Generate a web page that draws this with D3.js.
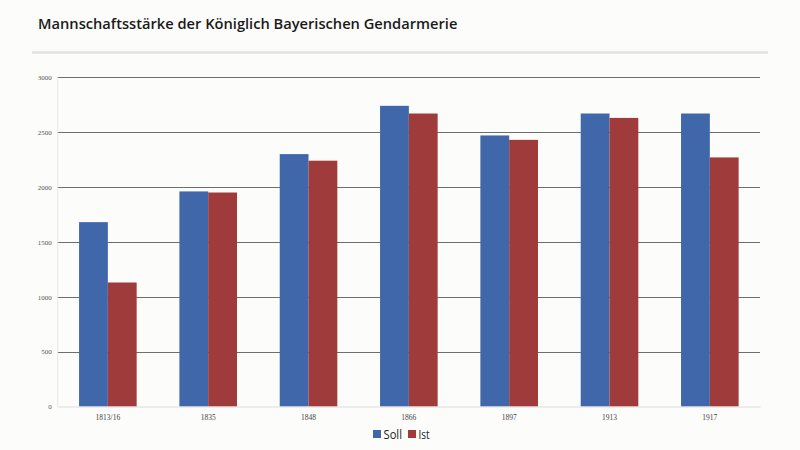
<!DOCTYPE html>
<html><head><meta charset="utf-8">
<script src="https://cdn.jsdelivr.net/npm/d3@7"></script>
<style>
html,body{margin:0;padding:0;background:#fcfcfa;}
svg{display:block;}
</style></head>
<body>
<svg id="c" width="800" height="450"></svg>
<script>
const categories = ["1813/16","1835","1848","1866","1897","1913","1917"];
const seriesNames = ["Soll","Ist"];
const soll = [1680,1960,2300,2740,2470,2670,2670];
const ist  = [1130,1950,2240,2670,2430,2630,2270];
const yTicks = [0,500,1000,1500,2000,2500,3000];
const colors = ["#3f67a9","#9f3b3b"];

(function(){
const svg = d3.select("#c");
svg.append("rect").attr("width",800).attr("height",450).attr("fill","#fcfcfa");

// Title
const title = svg.append("text").attr("x",38).attr("y",29)
  .attr("font-family","'Open Sans', sans-serif").attr("font-weight",600)
  .attr("font-size",16).attr("fill","#1a1a1a")
  .text("Mannschaftsstärke der Königlich Bayerischen Gendarmerie");
const tw = title.node().getComputedTextLength();
title.attr("font-size", 16*420/tw);
svg.append("line").attr("x1",32).attr("x2",768).attr("y1",52.5).attr("y2",52.5)
  .attr("stroke","#e2e2e0").attr("stroke-width",2.5);

const pLeft=57.7, pRight=760, pTop=77.3, pBottom=406.5;
const x = d3.scaleBand().domain(categories).range([pLeft,pRight]).paddingInner(0.426).paddingOuter(0.213);
const x1 = d3.scaleBand().domain(seriesNames).range([0,x.bandwidth()]).padding(0);
const y = d3.scaleLinear().domain([0,3000]).range([pBottom,pTop]);

// gridlines
svg.append("g").selectAll("line").data(yTicks.filter(d=>d>0)).join("line")
  .attr("x1",pLeft).attr("x2",pRight)
  .attr("y1",d=>Math.round(y(d))+0.5).attr("y2",d=>Math.round(y(d))+0.5)
  .attr("stroke","#6e6e6e").attr("stroke-width",1.2);
// left axis faint line
svg.append("line").attr("x1",pLeft).attr("x2",pLeft).attr("y1",pTop).attr("y2",pBottom)
  .attr("stroke","#e6e6e6").attr("stroke-width",1);

// y axis labels
const yAxis = d3.axisLeft(y).tickValues(yTicks).tickFormat(d3.format("d")).tickSize(0).tickPadding(6);
const gy = svg.append("g").attr("transform",`translate(${pLeft},0)`).call(yAxis);
gy.select(".domain").remove();
gy.attr("font-family","'Liberation Serif', serif");
gy.selectAll("text").attr("font-size",7).attr("fill","#555");

// bars
const data = categories.map((c,i)=>({cat:c, vals:[soll[i],ist[i]]}));
const groups = svg.append("g").selectAll("g").data(data).join("g")
  .attr("transform",d=>`translate(${x(d.cat)},0)`);
groups.selectAll("rect").data(d=>d.vals.map((v,j)=>({name:seriesNames[j],v,j}))).join("rect")
  .attr("x",d=>x1(d.name)).attr("width",x1.bandwidth())
  .attr("y",d=>y(d.v)).attr("height",d=>pBottom-y(d.v))
  .attr("fill",d=>colors[d.j]);

// bottom axis
const xAxis = d3.axisBottom(x).tickSize(0).tickPadding(8);
const gx = svg.append("g").attr("transform",`translate(0,${pBottom})`).call(xAxis);
gx.attr("font-family","'Liberation Serif', serif");
gx.select(".domain").attr("stroke","#dcdcdc").attr("stroke-width",1);
gx.selectAll("text").attr("font-size",7.5).attr("fill","#444");

// legend
const leg = svg.append("g");
const items = [{n:"Soll",c:colors[0],x:373},{n:"Ist",c:colors[1],x:408}];
items.forEach(it=>{
  leg.append("rect").attr("x",it.x).attr("y",430).attr("width",8).attr("height",8).attr("fill",it.c);
  leg.append("text").attr("x",it.x+10.5).attr("y",438.5)
    .attr("font-family","'Open Sans', sans-serif").attr("font-size",12).attr("fill","#222")
    .attr("textLength", it.n==="Soll"?18.5:11).attr("lengthAdjust","spacingAndGlyphs")
    .text(it.n);
});
})();
</script>
</body></html>
